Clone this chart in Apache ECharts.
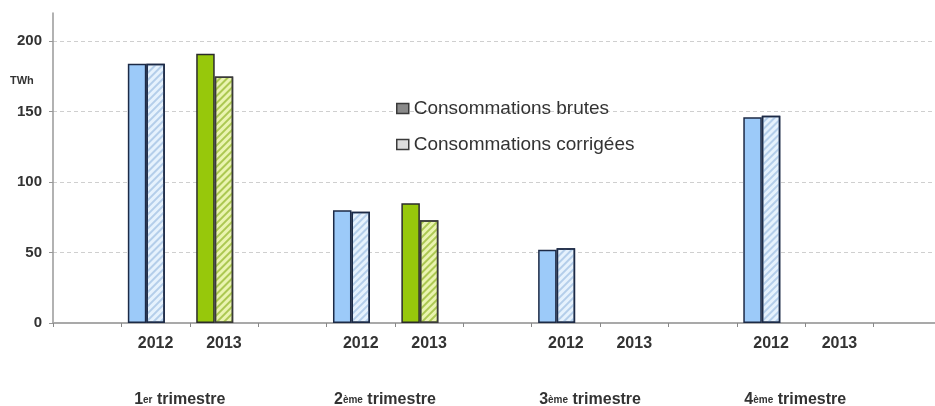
<!DOCTYPE html>
<html>
<head>
<meta charset="utf-8">
<script src="https://cdn.jsdelivr.net/npm/echarts@6/dist/echarts.min.js"></script>
<style>
html,body{margin:0;padding:0;background:#fff;}
#main{width:935px;height:406px;}
</style>
</head>
<body>
<div id="main"></div>
<script>
// ---- data ----
var categories = ['', '2012', '2013', '', '2012', '2013', '', '2012', '2013', '', '2012', '2013', ''];
var brutes     = [null, 184, 191, null, 80, 85, null, 52, null, null, 146, null, null];
var corrigees  = [null, 184, 175, null, 79, 73, null, 53, null, null, 147, null, null];
var trimestres = ['1er trimestre', '2ème trimestre', '3ème trimestre', '4ème trimestre'];
var trimestrePositions = [2, 5, 8, 11]; // slot boundaries (between 2012 and 2013)
var seriesNames = ['Consommations brutes', 'Consommations corrigées'];
var yTicks = { min: 0, max: 220, interval: 50 };
var unitLabel = 'TWh';

// ---- styles ----
var FONT = "'Liberation Sans', Arial, sans-serif";
var styleBrute = {
  '2012': { color: '#9ccaf9', borderColor: '#1c2a46' },
  '2013': { color: '#97c80b', borderColor: '#2b2b2b' }
};
var styleCorr = {
  '2012': { color: '#e6f2fd', borderColor: '#1c2a46', hatch: 'rgba(130,170,215,0.5)' },
  '2013': { color: '#eaf4b0', borderColor: '#3a3a3a', hatch: 'rgba(130,170,20,0.6)' }
};

function hatchDecal(c) {
  return { symbol: 'rect', symbolSize: 1, dashArrayX: [1, 0], dashArrayY: [1.2, 3], rotation: -Math.PI / 4, color: c };
}

function buildData(values, styles, hatch) {
  return values.map(function (v, i) {
    var s = styles[categories[i]];
    if (v === null || !s) return '-';
    var it = { color: s.color, borderColor: s.borderColor, borderWidth: 1.5 };
    if (hatch) it.decal = hatchDecal(s.hatch);
    return { value: v, itemStyle: it };
  });
}

var bottomCats = [];
for (var i = 0; i <= categories.length; i++) bottomCats.push('');
trimestrePositions.forEach(function (p, k) { bottomCats[p] = trimestres[k]; });

var chart = echarts.init(document.getElementById('main'), null, { renderer: 'canvas' });
var option = {
  backgroundColor: '#ffffff',
  animation: false,
  grid: { left: 53, width: 889, top: 13, bottom: 83, containLabel: false, outerBoundsMode: 'none' },
  legend: {
    orient: 'vertical',
    left: 391,
    top: 94,
    itemWidth: 12,
    itemHeight: 10,
    itemGap: 17,
    textStyle: { fontFamily: FONT, fontSize: 19, color: '#333' },
    data: [
      { name: seriesNames[0], icon: 'rect', itemStyle: { color: '#8a8a8a', borderColor: '#3a3a3a', borderWidth: 1.5, decal: 'none' } },
      { name: seriesNames[1], icon: 'rect', itemStyle: { color: '#dcdcdc', borderColor: '#3a3a3a', borderWidth: 1.5, decal: 'none' } }
    ]
  },
  xAxis: [
    {
      type: 'category',
      data: categories,
      boundaryGap: true,
      axisLine: { lineStyle: { color: '#a9a9a9', width: 2 } },
      axisTick: { show: true, interval: 0, length: 4, lineStyle: { color: '#888' } },
      axisLabel: { interval: 0, margin: 13, fontFamily: FONT, fontSize: 16, fontWeight: 'bold', color: '#333' },
      splitLine: { show: false }
    },
    {
      type: 'category',
      data: bottomCats,
      boundaryGap: false,
      position: 'bottom',
      axisLine: { show: false },
      axisTick: { show: false },
      splitLine: { show: false },
      axisLabel: {
        interval: 0,
        margin: 69,
        padding: [0, 20, 0, 0],
        formatter: function (v) {
          if (!v) return '';
          var m = v.match(/^(\d)(\S+)\s(.*)$/);
          return '{n|' + m[1] + '}{s|' + m[2] + '}{n| ' + m[3] + '}';
        },
        rich: {
          n: { fontFamily: FONT, fontSize: 16, fontWeight: 'bold', color: '#333' },
          s: { fontFamily: FONT, fontSize: 10, fontWeight: 'bold', color: '#333' }
        }
      }
    }
  ],
  yAxis: {
    type: 'value',
    min: yTicks.min,
    max: yTicks.max,
    interval: yTicks.interval,
    axisLine: { show: true, lineStyle: { color: '#999', width: 1.5 } },
    axisTick: { show: true, length: 4, lineStyle: { color: '#999' } },
    axisLabel: { showMaxLabel: false, margin: 11, fontFamily: FONT, fontSize: 15, fontWeight: 'bold', color: '#333' },
    splitLine: {
      show: true,
      lineStyle: { type: [4, 3], width: 1, color: ['#cfcfcf', '#cfcfcf', '#cfcfcf', '#cfcfcf', '#cfcfcf', 'rgba(0,0,0,0)'] }
    }
  },
  graphic: [
    { type: 'text', left: 10, top: 75, style: { text: unitLabel, fontFamily: FONT, fontSize: 11, fontWeight: 'bold', fill: '#333' } }
  ],
  series: [
    { name: seriesNames[0], type: 'bar', xAxisIndex: 0, barWidth: 18.5, barGap: '0%', data: buildData(brutes, styleBrute, false) },
    { name: seriesNames[1], type: 'bar', xAxisIndex: 0, barWidth: 18.5, barGap: '0%', data: buildData(corrigees, styleCorr, true) },
    { name: 'spacer', type: 'bar', xAxisIndex: 0, barWidth: 18.5, barGap: '0%', data: categories.map(function () { return '-'; }) }
  ]
};
chart.setOption(option);
</script>
</body>
</html>
